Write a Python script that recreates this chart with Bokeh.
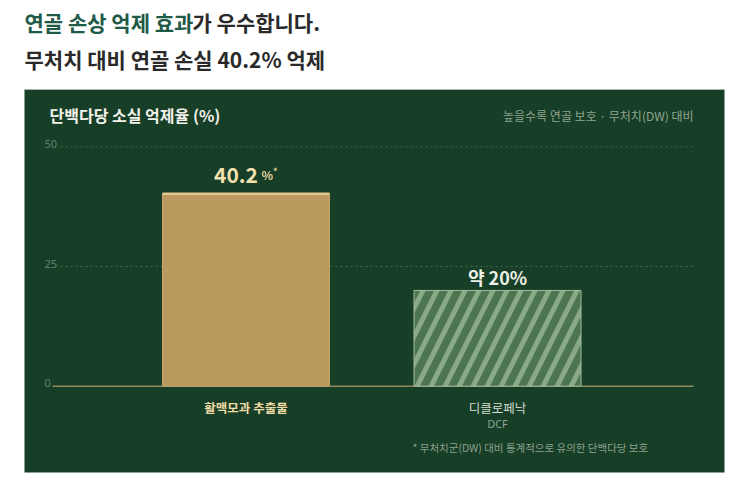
from bokeh.plotting import figure
from bokeh.models import Range1d
from bokeh.embed import file_html
from bokeh.resources import INLINE
from bokeh.core.properties import value

# ---------------- data ----------------
categories = ["활맥모과 추출물", "디클로페낙"]
category_notes = ["", "DCF"]
inhibition = [40.2, 20.0]
value_texts = ["40.2", "약 20%"]
y_ticks = [0, 25, 50]

title_em = "연골 손상 억제 효과"
title_rest = "가 우수합니다."
subtitle = "무처치 대비 연골 손실 40.2% 억제"
panel_title = "단백다당 소실 억제율 (%)"
panel_note = "높을수록 연골 보호 · 무처치(DW) 대비"
footnote = "* 무처치군(DW) 대비 통계적으로 유의한 단백다당 보호"

FONT = "Noto Sans CJK KR"

# ---------------- layout (page pixels -> data) ----------------
W, H = 732, 476
ORIGIN = 0                 # canvas origin on the page
X0, DX = 245.5, 251.5      # first category centre / category spacing (page px)
Y0, DY = 385.7, 4.788      # zero line (page px) / px per percent


def fx(px):
    return (px - X0) / DX


def fy(py):
    return (Y0 - py) / DY


BAR_W = 167 / DX

p = figure(width=W, height=H, output_backend="svg", toolbar_location=None,
           x_range=Range1d(fx(ORIGIN), fx(ORIGIN + W)), y_range=Range1d(fy(ORIGIN + H), fy(ORIGIN)),
           x_axis_type=None, y_axis_type=None, min_border=0)
p.grid.visible = False
p.outline_line_color = None
p.background_fill_color = "white"
p.border_fill_color = "white"

# headline
p.text(x=[fx(24)], y=[fy(21)], text=[title_em], text_align="left", text_baseline="middle",
       text_font=value(FONT), text_font_style="bold", text_font_size="21px", text_color="#1e5a46")
p.text(x=[fx(192)], y=[fy(21)], text=[title_rest], text_align="left", text_baseline="middle",
       text_font=value(FONT), text_font_style="bold", text_font_size="21px", text_color="#2a2a2a")
p.text(x=[fx(24)], y=[fy(58)], text=[subtitle], text_align="left", text_baseline="middle",
       text_font=value(FONT), text_font_style="bold", text_font_size="21px", text_color="#2a2a2a")

# green panel
p.quad(left=[fx(24)], right=[fx(724)], top=[fy(89)], bottom=[fy(472)],
       fill_color="#173e27", line_color=None)
p.segment(x0=[fx(24)], y0=[fy(89)], x1=[fx(724)], y1=[fy(89)], line_color="#a9b3ad", line_width=1)

p.text(x=[fx(49)], y=[fy(114)], text=[panel_title], text_align="left", text_baseline="middle",
       text_font=value(FONT), text_font_style="bold", text_font_size="16px", text_color="#f3f1ea")
p.text(x=[fx(693)], y=[fy(115)], text=[panel_note], text_align="right", text_baseline="middle",
       text_font=value(FONT), text_font_size="12px", text_color="#8ea590")

# grid + ticks
grid_ticks = [t for t in y_ticks if t > 0]
p.segment(x0=[fx(60)] * len(grid_ticks), y0=grid_ticks, x1=[fx(695)] * len(grid_ticks), y1=grid_ticks,
          line_color="#45674c", line_width=1, line_dash="2 3")
p.segment(x0=[fx(52)], y0=[0], x1=[fx(693)], y1=[0], line_color="#8d8a5a", line_width=1.5)
p.text(x=[fx(44)] * len(y_ticks), y=y_ticks, text=[str(t) for t in y_ticks],
       text_align="left", text_baseline="middle", y_offset=-3,
       text_font=value("Noto Sans"), text_font_size="11px", text_color="#62836a")

# bars
p.vbar(x=[0], top=[inhibition[0]], bottom=0, width=BAR_W,
       fill_color="#b9995d", line_color="#c4a468", line_width=1)
p.segment(x0=[0 - BAR_W / 2], y0=[inhibition[0]], x1=[0 + BAR_W / 2], y1=[inhibition[0]],
          line_color="#e0c890", line_width=2.5)
p.vbar(x=[1], top=[inhibition[1]], bottom=0, width=BAR_W,
       fill_color="#4d7551", hatch_pattern="/", hatch_color="#8aa985",
       hatch_weight=5, hatch_scale=28, line_color="#a3bd9f", line_width=1)

# value labels
p.text(x=[0], y=[inhibition[0]], text=[value_texts[0]], text_align="right", text_baseline="alphabetic",
       x_offset=12, y_offset=-19, text_font=value(FONT), text_font_style="bold",
       text_font_size="21px", text_color="#f1dfae")
p.text(x=[0], y=[inhibition[0]], text=["%"], text_align="left", text_baseline="alphabetic",
       x_offset=15.5, y_offset=-19, text_font=value(FONT), text_font_style="bold",
       text_font_size="12px", text_color="#e6d29e")
p.text(x=[0], y=[inhibition[0]], text=["*"], text_align="left", text_baseline="alphabetic",
       x_offset=27, y_offset=-22, text_font=value(FONT), text_font_style="bold",
       text_font_size="9px", text_color="#e6d29e")
p.text(x=[1], y=[inhibition[1]], text=[value_texts[1]], text_align="center", text_baseline="alphabetic",
       y_offset=-13, text_font=value(FONT), text_font_style="bold",
       text_font_size="18px", text_color="#ecf0e8")

# category labels
p.text(x=[0], y=[fy(407)], text=[categories[0]], text_align="center", text_baseline="middle",
       text_font=value(FONT), text_font_style="bold", text_font_size="12.5px", text_color="#f0dba5")
p.text(x=[1], y=[fy(407)], text=[categories[1]], text_align="center", text_baseline="middle",
       text_font=value(FONT), text_font_size="12.5px", text_color="#d4dcd0")
p.text(x=[1], y=[fy(423)], text=[category_notes[1]], text_align="center", text_baseline="middle",
       text_font=value("Noto Sans"), text_font_size="10.5px", text_color="#93a896")

# footnote
p.text(x=[fx(412)], y=[fy(447)], text=[footnote], text_align="left", text_baseline="middle",
       text_font=value(FONT), text_font_size="10.5px", text_color="#8aa28c")

open("out.html", "w").write(file_html(p, INLINE))
